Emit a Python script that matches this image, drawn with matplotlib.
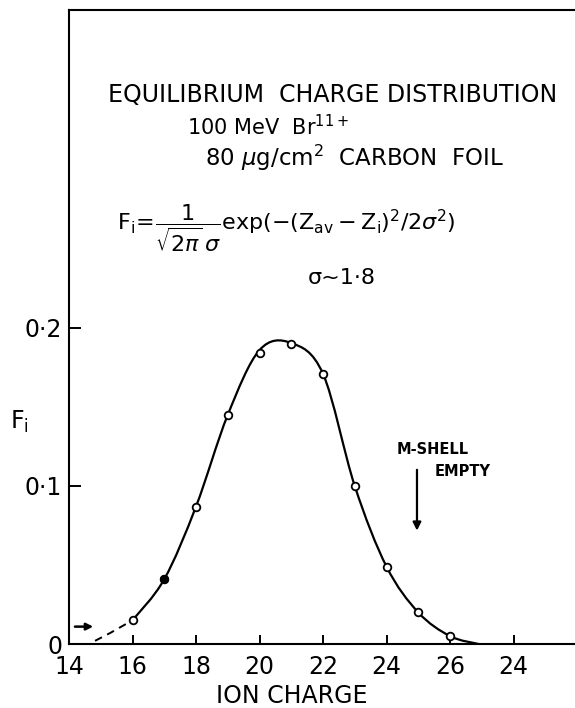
import matplotlib
matplotlib.use("Agg")
import matplotlib.pyplot as plt
import numpy as np
from matplotlib.path import Path
from matplotlib.patches import PathPatch

# measured charge-state fractions
ion_charge = [16, 17, 18, 19, 20, 21, 22, 23, 24, 25, 26]
fraction = [0.015, 0.041, 0.087, 0.145, 0.184, 0.190, 0.171, 0.100, 0.049, 0.020, 0.005]
filled_charge = [17]
filled_fraction = [0.041]

# hand-drawn smooth curve through the data (knots)
fit_x = [16, 17, 18, 19, 20, 21, 22, 23, 24, 25, 26, 26.9]
fit_y = [0.015, 0.041, 0.087, 0.145, 0.186, 0.1905, 0.171, 0.100, 0.049, 0.020, 0.005, 0.0]

# dashed extrapolation to low charges
ext_x = [14.82, 15.3, 16.0]
ext_y = [0.002, 0.007, 0.015]

xticks = [14, 16, 18, 20, 22, 24, 26, 28]
xticklabels = ["14", "16", "18", "20", "22", "24", "26", "24"]
yticks = [0.0, 0.1, 0.2]
yticklabels = ["0", "0\u00b71", "0\u00b72"]

plt.rcParams["font.family"] = ["DejaVu Sans"]
plt.rcParams["mathtext.fontset"] = "dejavusans"

W, H = 575, 708
fig = plt.figure(figsize=(W / 100, H / 100), dpi=100)
ax = fig.add_axes([69 / W, 1 - 644 / H, 1 - 69 / W, (644 - 10) / H])


def smooth_path(xs, ys):
    # Catmull-Rom knots turned into cubic Bezier segments
    p = np.column_stack([xs, ys]).astype(float)
    p = np.vstack([p[0], p, p[-1]])
    verts = [p[1]]
    codes = [Path.MOVETO]
    for i in range(1, len(p) - 2):
        c1 = p[i] + (p[i + 1] - p[i - 1]) / 6
        c2 = p[i + 1] - (p[i + 2] - p[i]) / 6
        verts += [c1, c2, p[i + 1]]
        codes += [Path.CURVE4] * 3
    return Path(verts, codes)


ax.add_patch(PathPatch(smooth_path(fit_x, fit_y), fill=False, lw=1.6, color="black"))
ax.plot(ext_x, ext_y, color="black", lw=1.4, dashes=(4, 3))
ax.plot(ion_charge, fraction, "o", ms=5.5, mfc="white", mec="black", mew=1.3, zorder=3)
ax.plot(filled_charge, filled_fraction, "o", ms=5.5, mfc="black", mec="black", zorder=4)

ax.annotate("", xy=(14.85, 0.011), xytext=(14.1, 0.011),
            arrowprops=dict(arrowstyle="-|>", color="black", lw=1.8, mutation_scale=10))
ax.annotate("", xy=(24.96, 0.070), xytext=(24.96, 0.112),
            arrowprops=dict(arrowstyle="-|>", color="black", lw=1.6, mutation_scale=12))
ax.text(24.33, 0.1228, "M-SHELL", fontsize=10.5, fontweight="bold", ha="left", va="center")
ax.text(25.53, 0.1089, "EMPTY", fontsize=10.5, fontweight="bold", ha="left", va="center")

ax.set_xlim(14, 14 + 506 / 31.75)
ax.set_ylim(0, 634 / 1580)
ax.set_xticks(xticks)
ax.set_xticklabels(xticklabels, fontsize=17)
ax.set_yticks(yticks)
ax.set_yticklabels(yticklabels, fontsize=17)
ax.tick_params(axis="x", direction="in", length=6.5, width=1.4, pad=8)
ax.tick_params(axis="y", direction="in", length=8.5, width=1.4, pad=5)
for s in ["left", "bottom", "top"]:
    ax.spines[s].set_linewidth(1.5)
ax.spines["right"].set_visible(False)

fig.text(292 / W, 1 - 696 / H, "ION CHARGE", fontsize=17, ha="center", va="center")
fig.text(10 / W, 1 - 422 / H, "F$_\\mathregular{i}$", fontsize=17, va="center", ha="left")

fig.text(108 / W, 1 - 95 / H, "EQUILIBRIUM  CHARGE DISTRIBUTION", fontsize=17, va="center")
fig.text(187 / W, 1 - 127 / H, "100 MeV  Br$^{\\mathregular{11+}}$", fontsize=15, va="center")
fig.text(205 / W, 1 - 158 / H, "80 $\\mu$g/cm$^{\\mathregular{2}}$  CARBON  FOIL", fontsize=16.5, va="center")
fig.text(117 / W, 1 - 228 / H,
         r"$\mathregular{F_i}\!=\!\dfrac{1}{\sqrt{2\pi}\,\sigma}\mathregular{exp(-(Z_{av}-Z_i)^2/2}\sigma^2\mathregular{)}$",
         fontsize=16, va="center")
fig.text(308 / W, 1 - 278 / H, "\u03c3~1\u00b78", fontsize=16, va="center")

fig.savefig("out.png", dpi=100)
